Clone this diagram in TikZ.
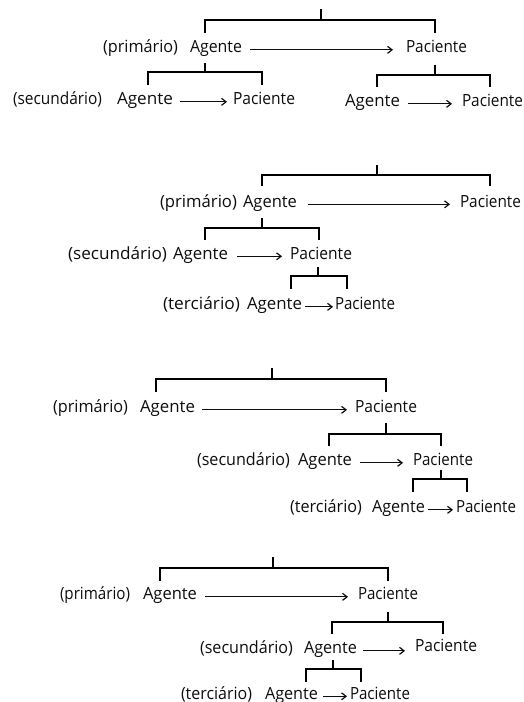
\documentclass[tikz,border=0pt]{standalone}
\usepackage{fontspec}
\setmainfont{Open Sans}
\usetikzlibrary{arrows.meta}
\newcommand\fitw[2]{\resizebox{#1pt}{\height}{#2}}
\newcommand\wordat[5]{\node[txt] (#1) at (#2,#3) {\fitw{#4}{#5}};}
\begin{document}
\begin{tikzpicture}[x=1pt,y=-1pt,
 txt/.style={inner sep=0pt,outer sep=0pt,anchor=base west,font=\fontsize{16.8}{19}\selectfont,text=black!95},
 br/.style={line width=2.1pt,black,line cap=butt,line join=miter},
 arr/.style={line width=1.1pt,black!95,-{Straight Barb[length=4.5pt,width=7pt,line width=1.2pt]}}]
\useasboundingbox (0,0) rectangle (524,702);
% ---------------- Block 1
\wordat{b1l1}{103}{52.5}{75}{(primário)}
\wordat{b1a1}{190}{52.5}{52}{Agente}
\wordat{b1p1}{406}{52.5}{61}{Paciente}
\wordat{b1l2}{13}{104.5}{89}{(secundário)}
\wordat{b1a2}{117}{104.5}{56}{Agente}
\wordat{b1p2}{233}{104.5}{62}{Paciente}
\wordat{b1a3}{345}{106.5}{55}{Agente}
\wordat{b1p3}{462}{106.5}{61}{Paciente}
\draw[arr,shorten <=8pt,shorten >=13pt] (b1a1.mid east) -- (b1a1.mid east -| b1p1.west);
\draw[arr,shorten <=7pt,shorten >=6pt] (b1a2.mid east) -- (b1a2.mid east -| b1p2.west);
\draw[arr,shorten <=8pt,shorten >=10pt] (b1a3.mid east) -- (b1a3.mid east -| b1p3.west);
\draw[br] (321,9) -- (321,20);
\draw[br] (205,33) -- (205,20) -- (435,20) -- (435,33);
\draw[br] (205,63) -- (205,72);
\draw[br] (148,85) -- (148,72) -- (262,72) -- (262,85);
\draw[br] (435,65) -- (435,75);
\draw[br] (377,87) -- (377,75) -- (490,75) -- (490,87);
% ---------------- Block 2
\wordat{b2l1}{160}{207}{77}{(primário)}
\wordat{b2a1}{243}{207}{54}{Agente}
\wordat{b2p1}{460}{207}{61}{Paciente}
\wordat{b2l2}{68}{259}{99}{(secundário)}
\wordat{b2a2}{173}{259}{55}{Agente}
\wordat{b2p2}{290}{259}{62}{Paciente}
\wordat{b2l3}{163}{309.5}{77}{(terciário)}
\wordat{b2a3}{247}{309.5}{55}{Agente}
\wordat{b2p3}{335}{309.5}{60}{Paciente}
\draw[arr,shorten <=11pt,shorten >=10pt] (b2a1.mid east) -- (b2a1.mid east -| b2p1.west);
\draw[arr,shorten <=9pt,shorten >=8pt] (b2a2.mid east) -- (b2a2.mid east -| b2p2.west);
\draw[arr,shorten <=3pt,shorten >=2pt] (b2a3.mid east) -- (b2a3.mid east -| b2p3.west);
\draw[br] (377,165) -- (377,175);
\draw[br] (262,186) -- (262,175) -- (490,175) -- (490,186);
\draw[br] (262,218) -- (262,228);
\draw[br] (205,240) -- (205,228) -- (319,228) -- (319,240);
\draw[br] (318,267) -- (318,276);
\draw[br] (291,289) -- (291,276) -- (347,276) -- (347,289);
% ---------------- Block 3
\wordat{b3l1}{53}{412.5}{75}{(primário)}
\wordat{b3a1}{140}{412.5}{55}{Agente}
\wordat{b3p1}{355}{412.5}{62}{Paciente}
\wordat{b3l2}{197}{465.5}{93}{(secundário)}
\wordat{b3a2}{298}{465.5}{54}{Agente}
\wordat{b3p2}{413}{465.5}{60}{Paciente}
\wordat{b3l3}{290}{512.5}{72}{(terciário)}
\wordat{b3a3}{372}{512.5}{53}{Agente}
\wordat{b3p3}{456}{512.5}{60}{Paciente}
\draw[arr,shorten <=7pt,shorten >=8pt] (b3a1.mid east) -- (b3a1.mid east -| b3p1.west);
\draw[arr,shorten <=8pt,shorten >=10pt] (b3a2.mid east) -- (b3a2.mid east -| b3p2.west);
\draw[arr,shorten <=3pt,shorten >=3pt] (b3a3.mid east) -- (b3a3.mid east -| b3p3.west);
\draw[br] (272,368) -- (272,379);
\draw[br] (156,392) -- (156,379) -- (386,379) -- (386,392);
\draw[br] (386,423) -- (386,434);
\draw[br] (329,446) -- (329,434) -- (441,434) -- (441,446);
\draw[br] (441,470) -- (441,479);
\draw[br] (413,492) -- (413,479) -- (467,479) -- (467,492);
% ---------------- Block 4
\wordat{b4l1}{60}{599.5}{70}{(primário)}
\wordat{b4a1}{143}{599.5}{54}{Agente}
\wordat{b4p1}{358}{599.5}{60}{Paciente}
\wordat{b4l2}{200}{653.5}{93}{(secundário)}
\wordat{b4a2}{304}{653.5}{53}{Agente}
\wordat{b4p2}{415}{651.5}{62}{Paciente}
\wordat{b4l3}{181}{699}{71}{(terciário)}
\wordat{b4a3}{265}{699}{53}{Agente}
\wordat{b4p3}{350}{699}{60}{Paciente}
\draw[arr,shorten <=8pt,shorten >=10pt] (b4a1.mid east) -- (b4a1.mid east -| b4p1.west);
\draw[arr,shorten <=6pt,shorten >=10pt] (b4a2.mid east) -- (b4a2.mid east -| b4p2.west);
\draw[arr,shorten <=5pt,shorten >=3pt] (b4a3.mid east) -- (b4a3.mid east -| b4p3.west);
\draw[br] (273,557) -- (273,568);
\draw[br] (160,581) -- (160,568) -- (388,568) -- (388,581);
\draw[br] (388,612) -- (388,622);
\draw[br] (332,634) -- (332,622) -- (443,622) -- (443,634);
\draw[br] (333,660) -- (333,669);
\draw[br] (306,682) -- (306,669) -- (361,669) -- (361,682);
\end{tikzpicture}
\end{document}
